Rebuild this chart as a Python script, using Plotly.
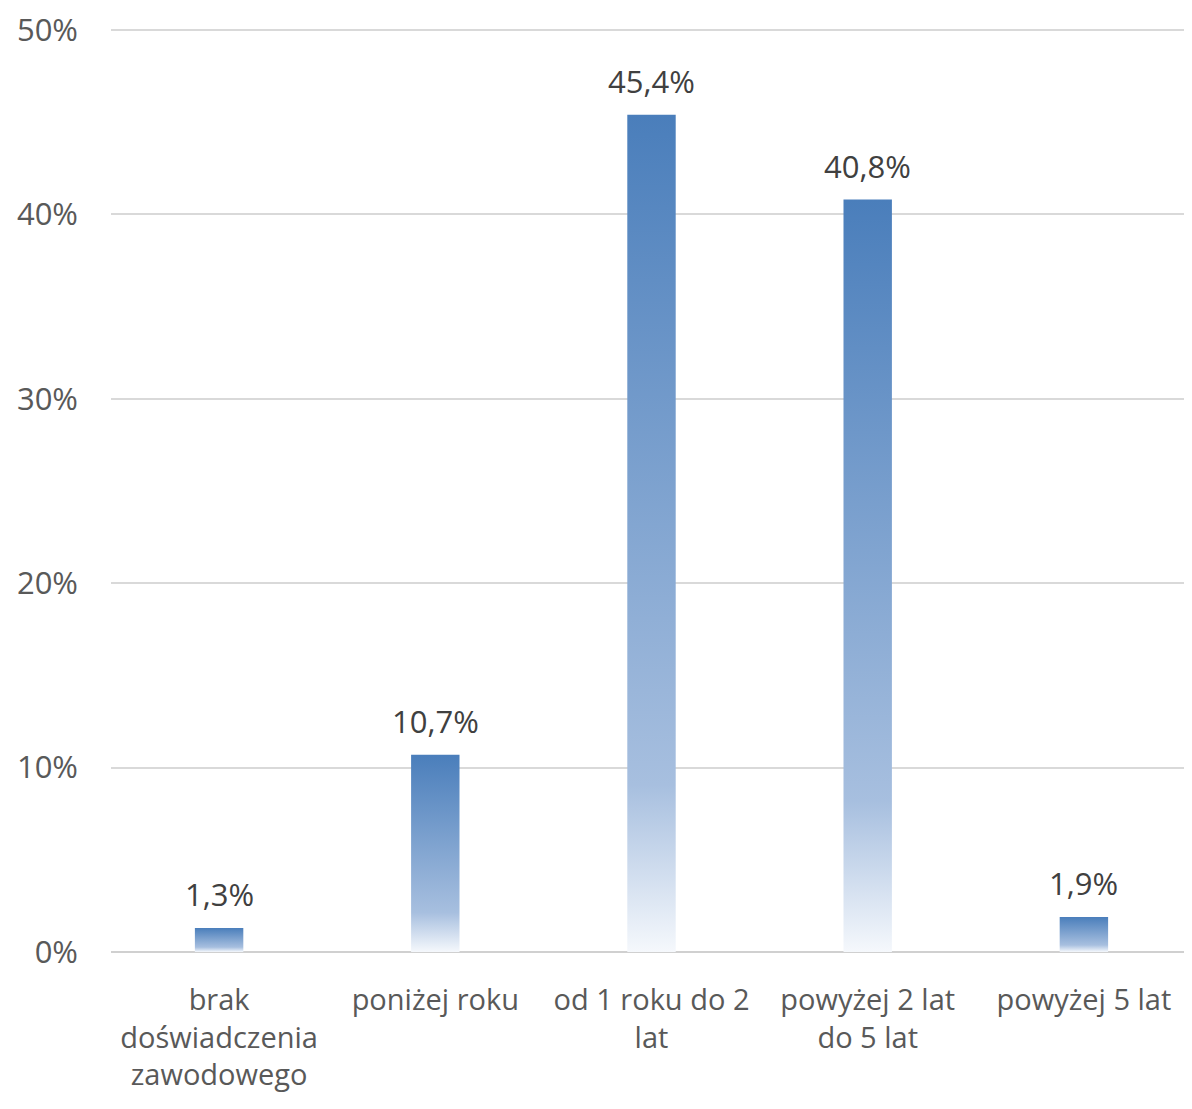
import plotly.graph_objects as go

categories = ["brak<br>doświadczenia<br>zawodowego", "poniżej roku", "od 1 roku do 2<br>lat",
              "powyżej 2 lat<br>do 5 lat", "powyżej 5 lat"]
values = [1.3, 10.7, 45.4, 40.8, 1.9]
labels = ["1,3%", "10,7%", "45,4%", "40,8%", "1,9%"]
y_ticks = [0, 10, 20, 30, 40, 50]
y_ticktext = ["0%", "10%", "20%", "30%", "40%", "50%"]

BAR_HALF = 0.112
gradient = [[0, "#f5f8fc"], [0.2, "#a7bfdf"], [1, "#4a7ebb"]]

fig = go.Figure()
for i, v in enumerate(values):
    xs = [i - BAR_HALF, i + BAR_HALF, i + BAR_HALF, i - BAR_HALF, i - BAR_HALF]
    ys = [0, 0, v, v, 0]
    fig.add_trace(go.Scatter(
        x=xs, y=ys, mode="lines", fill="toself",
        line=dict(width=0, color="rgba(0,0,0,0)"),
        fillgradient=dict(type="vertical", colorscale=gradient),
        hoverinfo="skip", showlegend=False))

for i, (v, t) in enumerate(zip(values, labels)):
    fig.add_annotation(
        x=i, y=v, text=t, showarrow=False, yanchor="bottom", yshift=11,
        font=dict(family="Open Sans", size=31, color="#404040"))

fig.update_layout(
    width=1184, height=1101,
    margin=dict(l=103, r=0, t=20, b=157),
    paper_bgcolor="white", plot_bgcolor="white",
    showlegend=False,
    xaxis=dict(
        range=[-0.5, len(values) - 0.5], automargin=False,
        tickmode="array", tickvals=list(range(len(values))), ticktext=categories,
        tickfont=dict(family="Open Sans", size=29, color="#595959"),
        showgrid=False, zeroline=False, showline=False, ticks="",
        ticklabelstandoff=28, ticklabeloverflow="allow",
    ),
    yaxis=dict(
        range=[0, 50.1], automargin=False,
        tickmode="array", tickvals=y_ticks, ticktext=y_ticktext,
        tickfont=dict(family="Open Sans", size=31, color="#595959"),
        showgrid=True, gridcolor="#d9d9d9", gridwidth=1.5,
        zeroline=True, zerolinecolor="#d0d0d0", zerolinewidth=2,
        showline=False, ticks="", ticklabelstandoff=32,
        ticklabeloverflow="allow",
    ),
)

fig.write_html("out.html")
